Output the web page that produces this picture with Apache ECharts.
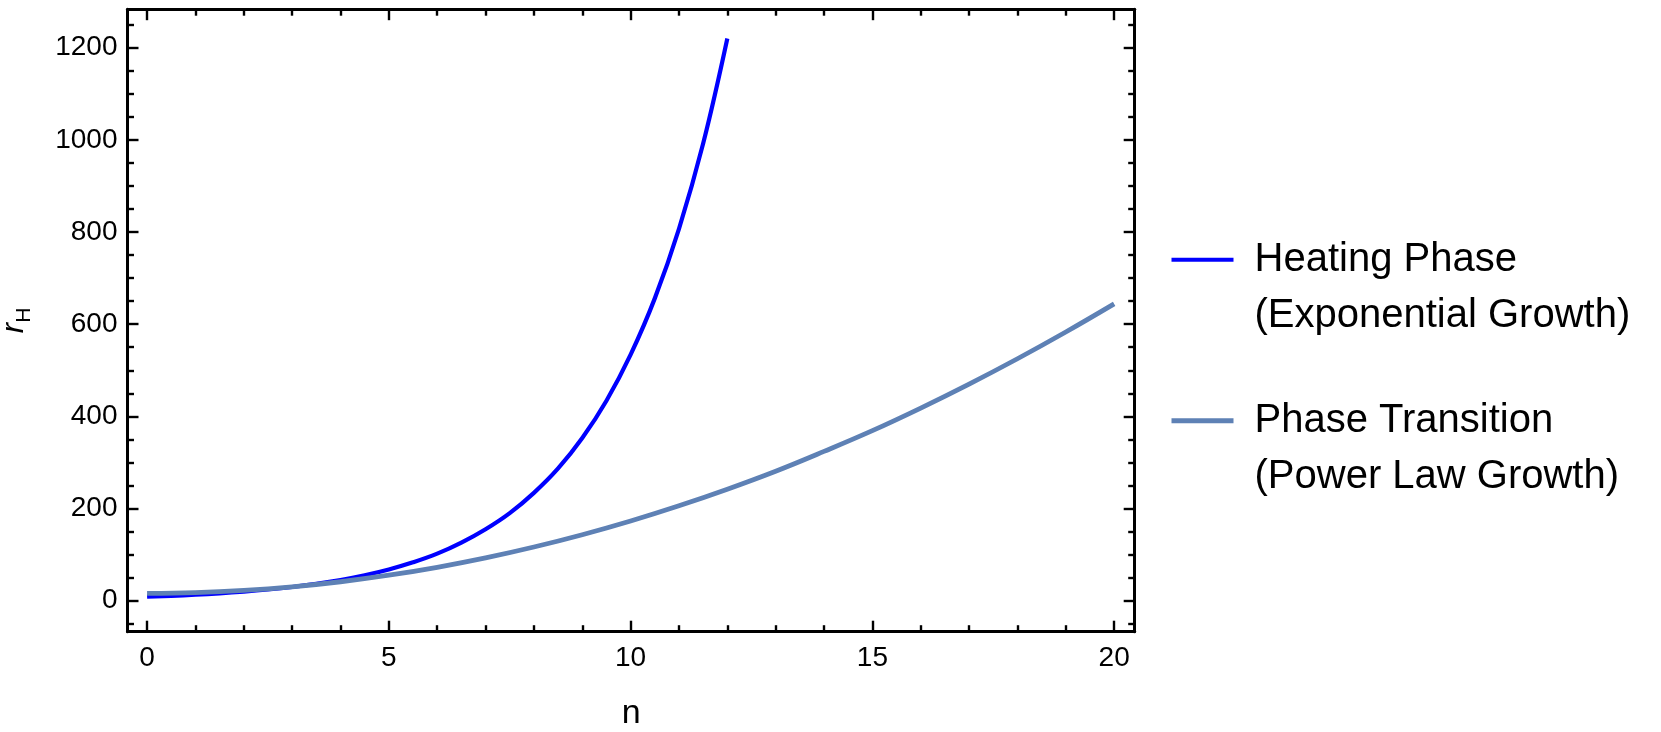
<!DOCTYPE html>
<html><head><meta charset="utf-8">
<script src="https://cdn.jsdelivr.net/npm/echarts@6/dist/echarts.min.js"></script>
<style>html,body{margin:0;padding:0;background:#fff}#c{width:1661px;height:732px}</style>
</head><body><div id="c"></div>
<script>
// ---- data ----
const nHeating = [0, 0.5, 1, 1.5, 2, 2.5, 3, 3.5, 4, 4.5, 5, 5.5, 6, 6.5, 7, 7.5, 8, 8.5, 9, 9.5, 10, 10.5, 11, 11.5, 12];
const rHeating = [8.6, 10.6, 13, 16, 19.7, 24.2, 29.7, 36.5, 44.8, 55.1, 67.7, 83.2, 102, 126, 155, 190, 234, 287, 353, 434, 534, 656, 807, 992, 1220];
const nTransition = [0, 1, 2, 3, 4, 5, 6, 7, 8, 9, 10, 11, 12, 13, 14, 15, 16, 17, 18, 19, 20];
const rTransition = [16, 17.6, 22.3, 30.1, 41.1, 55.3, 72.5, 92.9, 116.5, 143.2, 173, 206, 242, 281, 324, 369, 418, 470, 525, 583, 644];
const xMajorTicks = [0, 5, 10, 15, 20];
const xMinorTicks = [1, 2, 3, 4, 6, 7, 8, 9, 11, 12, 13, 14, 16, 17, 18, 19];
const yMajorTicks = [0, 200, 400, 600, 800, 1000, 1200];
const yMinorTicks = [-50, 50, 100, 150, 250, 300, 350, 450, 500, 550, 650, 700, 750, 850, 900, 950, 1050, 1100, 1150, 1250];
const legendLines = [['Heating Phase', '(Exponential Growth)'], ['Phase Transition', '(Power Law Growth)']];
const seriesColors = ['#0000FF', '#5E81B5'];
const xName = 'n';

const FONT = '"Liberation Sans", Arial, Helvetica, sans-serif';
const X_MIN = -0.405, X_MAX = 20.425, Y_MIN = -67.3, Y_MAX = 1283.5;
const names = legendLines.map(l => l.join(' '));

function xAx(pos, ticks, len, labels, line) {
  return {
    type: 'value', position: pos, min: X_MIN, max: X_MAX, gridIndex: 0,
    axisLine: { show: line, onZero: false, lineStyle: { color: '#000', width: 3 } },
    axisTick: { show: true, inside: true, length: len, customValues: ticks, lineStyle: { color: '#000', width: 2.4 } },
    axisLabel: labels ? { show: true, customValues: ticks, margin: 13, color: '#000', fontSize: 28, fontFamily: FONT, formatter: v => String(v) } : { show: false },
    splitLine: { show: false }, minorTick: { show: false }
  };
}
function yAx(pos, ticks, len, labels, line) {
  return {
    type: 'value', position: pos, min: Y_MIN, max: Y_MAX, gridIndex: 0,
    axisLine: { show: line, onZero: false, lineStyle: { color: '#000', width: 3 } },
    axisTick: { show: true, inside: true, length: len, customValues: ticks, lineStyle: { color: '#000', width: 2.4 } },
    axisLabel: labels ? { show: true, customValues: ticks, margin: 10, color: '#000', fontSize: 28, fontFamily: FONT, formatter: v => String(v) } : { show: false },
    splitLine: { show: false }, minorTick: { show: false }
  };
}

const xAxes = [
  xAx('bottom', xMajorTicks, 11, true, true),
  xAx('bottom', xMinorTicks, 6.5, false, false),
  xAx('top', xMajorTicks, 11, false, true),
  xAx('top', xMinorTicks, 6.5, false, false)
];
Object.assign(xAxes[0], {
  name: xName, nameLocation: 'middle', nameGap: 65,
  nameTextStyle: { color: '#000', fontSize: 34, fontFamily: FONT }
});
const yAxes = [
  yAx('left', yMajorTicks, 11, true, true),
  yAx('left', yMinorTicks, 6.5, false, false),
  yAx('right', yMajorTicks, 11, false, true),
  yAx('right', yMinorTicks, 6.5, false, false)
];
Object.assign(yAxes[0], {
  name: '{r|r}{h|H}', nameLocation: 'middle', nameRotate: 90, nameGap: 93,
  nameTextStyle: {
    color: '#000', fontFamily: FONT, lineHeight: 40,
    rich: {
      r: { fontSize: 31, fontStyle: 'italic', fontFamily: FONT, color: '#000', lineHeight: 40, verticalAlign: 'middle' },
      h: { fontSize: 21, fontFamily: FONT, color: '#000', lineHeight: 21, verticalAlign: 'bottom' }
    }
  }
});

function legendFor(i, top, h) {
  return {
    show: true, orient: 'vertical', left: 1171.5, top: top, padding: 0,
    data: [names[i]], icon: 'rect', itemWidth: 62, itemHeight: h, selectedMode: false,
    formatter: () => '{s| }\n{g| }{a|' + legendLines[i][0] + '}\n{g| }{a|' + legendLines[i][1] + '}',
    textStyle: {
      color: '#000', fontFamily: FONT,
      rich: {
        s: { fontSize: 10, lineHeight: 56.5 },
        g: { width: 16, fontSize: 10, lineHeight: 56.5 },
        a: { fontSize: 40, lineHeight: 56.5, color: '#000', fontFamily: FONT }
      }
    }
  };
}

const chart = echarts.init(document.getElementById('c'), null, { renderer: 'canvas' });
chart.setOption({
  animation: false,
  backgroundColor: '#fff',
  grid: { left: 127.5, right: 526.3, top: 9.2, bottom: 100.3, containLabel: false, outerBoundsMode: 'none' },
  xAxis: xAxes,
  yAxis: yAxes,
  legend: [legendFor(0, 257 - 84.75 + 26, 4), legendFor(1, 418 - 84.75 + 26, 5)],
  series: [
    {
      name: names[0], type: 'line', xAxisIndex: 0, yAxisIndex: 0,
      data: nHeating.map((n, i) => [n, rHeating[i]]),
      showSymbol: false, smooth: 0.4,
      lineStyle: { color: seriesColors[0], width: 4.2 }, itemStyle: { color: seriesColors[0] }
    },
    {
      name: names[1], type: 'line', xAxisIndex: 0, yAxisIndex: 0,
      data: nTransition.map((n, i) => [n, rTransition[i]]),
      showSymbol: false, smooth: 0.4,
      lineStyle: { color: seriesColors[1], width: 4.8 }, itemStyle: { color: seriesColors[1] }
    }
  ]
});
</script></body></html>
